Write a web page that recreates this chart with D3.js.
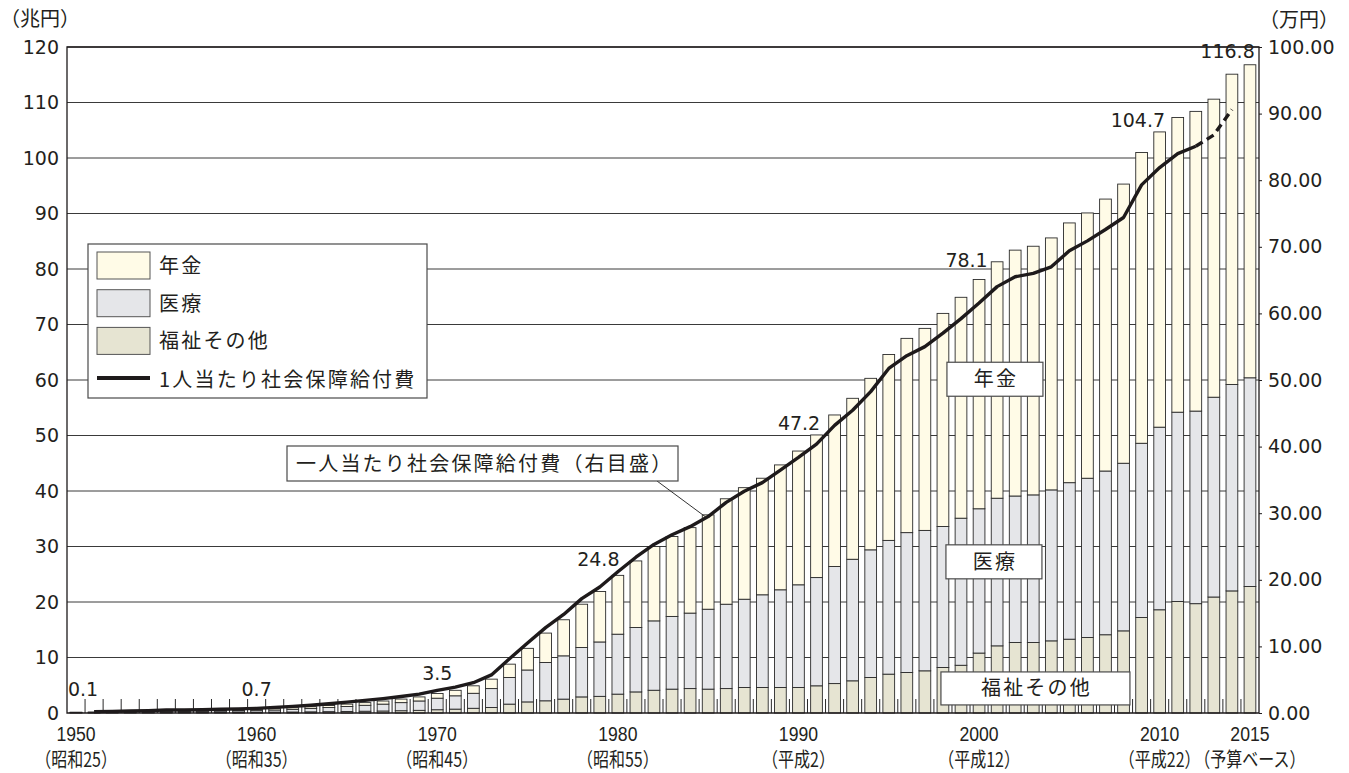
<!DOCTYPE html>
<html>
<head>
<meta charset="utf-8">
<script src="https://cdn.jsdelivr.net/npm/d3@7/dist/d3.min.js"></script>
<style>
  body { margin: 0; background: #fff; }
  svg { display: block; }
  .num { font-family: "DejaVu Sans", sans-serif; font-size: 19px; fill: #231f20; }
  .jp { font-family: "Noto Sans CJK JP", sans-serif; font-size: 20px; fill: #231f20; letter-spacing: 2.2px; }
  .grid { stroke: #3a3a3a; stroke-width: 1; }
</style>
</head>
<body>
<svg id="chart" width="1349" height="773"></svg>
<script>
// Categories
const years = d3.range(1950, 2016);

// 兆円, stacked bottom -> top: 福祉その他, 医療, 年金
const welfare = [
  0.06, 0.07, 0.08, 0.09, 0.10, 0.11, 0.11, 0.11, 0.12, 0.13,
  0.14, 0.16, 0.18, 0.21, 0.24, 0.28, 0.32, 0.36, 0.41, 0.48,
  0.59, 0.70, 0.85, 1.00, 1.60, 2.00, 2.20, 2.50, 2.90, 3.00,
  3.40, 3.80, 4.10, 4.30, 4.40, 4.30, 4.40, 4.60, 4.60, 4.60,
  4.60, 4.90, 5.30, 5.80, 6.40, 7.00, 7.30, 7.60, 8.20, 8.60,
  10.8, 12.1, 12.7, 12.7, 13.0, 13.3, 13.6, 14.1, 14.8, 17.2,
  18.6, 20.1, 19.7, 20.9, 22.0, 22.8
];
const medical = [
  0.06, 0.07, 0.10, 0.13, 0.15, 0.19, 0.19, 0.21, 0.24, 0.27,
  0.29, 0.38, 0.48, 0.59, 0.74, 0.90, 1.07, 1.24, 1.46, 1.69,
  2.08, 2.40, 2.70, 3.40, 4.80, 5.75, 6.90, 7.80, 8.90, 9.80,
  10.8, 11.6, 12.5, 13.1, 13.6, 14.4, 15.2, 15.9, 16.7, 17.6,
  18.5, 19.5, 21.1, 21.9, 23.0, 24.1, 25.2, 25.3, 25.4, 26.5,
  26.0, 26.6, 26.4, 26.6, 27.2, 28.2, 28.7, 29.5, 30.2, 31.4,
  32.9, 34.1, 34.7, 36.0, 37.2, 37.6
];
const pension = [
  0.01, 0.02, 0.03, 0.04, 0.05, 0.09, 0.10, 0.12, 0.15, 0.17,
  0.22, 0.25, 0.29, 0.33, 0.37, 0.42, 0.48, 0.56, 0.64, 0.73,
  0.85, 0.99, 1.35, 1.70, 2.40, 3.90, 5.30, 6.50, 7.80, 9.10,
  10.6, 12.0, 13.4, 14.4, 15.4, 17.0, 19.0, 20.1, 21.0, 22.5,
  24.1, 25.7, 27.3, 29.0, 30.9, 33.5, 35.0, 36.4, 38.4, 39.8,
  41.3, 42.6, 44.3, 44.8, 45.4, 46.8, 47.8, 49.0, 50.3, 52.4,
  53.2, 53.1, 54.0, 53.7, 55.9, 56.4
];

// 1人当たり社会保障給付費 (万円), 1951-2014
const perCapitaYears = d3.range(1951, 2015);
const perCapita = [
  0.19, 0.24, 0.30, 0.35, 0.44, 0.44, 0.48, 0.56, 0.62,
  0.70, 0.84, 1.00, 1.17, 1.39, 1.63, 1.89, 2.16, 2.48, 2.83,
  3.40, 3.89, 4.55, 5.72, 8.16, 10.52, 12.82, 14.79, 17.17, 18.92,
  21.20, 23.39, 25.31, 26.76, 27.98, 29.49, 31.63, 33.30, 34.59, 36.48,
  38.37, 40.37, 43.19, 45.46, 48.26, 51.73, 53.65, 55.01, 57.03, 59.22,
  61.55, 64.02, 65.50, 66.00, 67.00, 69.40, 70.89, 72.60, 74.40, 79.30,
  81.90, 84.00, 85.10, 86.80, 90.60
];
const dashedFrom = 2012;

// Total labels (兆円)
const labelYears = [1950, 1960, 1970, 1980, 1990, 2000, 2010, 2015];
const labelTexts = ['0.1', '0.7', '3.5', '24.8', '47.2', '78.1', '104.7', '116.8'];

// x axis labels
const tickYears = [1950, 1960, 1970, 1980, 1990, 2000, 2010, 2015];
const eraTexts = ['（昭和25）', '（昭和35）', '（昭和45）', '（昭和55）', '（平成2）', '（平成12）', '（平成22）', '（予算ベース）'];

const seriesKeys = ['welfare', 'medical', 'pension'];
const seriesNames = { welfare: '福祉その他', medical: '医療', pension: '年金' };
const colors = { welfare: '#e6e4d2', medical: '#e5e6e9', pension: '#fffbe7' };

// ---- layout
const margin = { top: 47, right: 90, bottom: 60, left: 67 };
const W = 1349, H = 773;
const x0 = margin.left, x1 = W - margin.right, yTop = margin.top, yBot = H - margin.bottom;

const svg = d3.select('#chart');

const x = d3.scaleBand().domain(years).range([x0, x1]).paddingInner(0.35).paddingOuter(0.175);
const yL = d3.scaleLinear().domain([0, 120]).range([yBot, yTop]);
const yR = d3.scaleLinear().domain([0, 100]).range([yBot, yTop]);
const cx = yr => x(yr) + x.bandwidth() / 2;

// gridlines
svg.append('g').selectAll('line')
  .data(yL.ticks(12).filter(d => d > 0))
  .enter().append('line')
  .attr('class', 'grid')
  .attr('x1', x0).attr('x2', x1)
  .attr('y1', d => yL(d)).attr('y2', d => yL(d));

// stacked bars
const rows = years.map((yr, i) => ({ year: yr, welfare: welfare[i], medical: medical[i], pension: pension[i] }));
const stacked = d3.stack().keys(seriesKeys)(rows);

svg.append('g').selectAll('g')
  .data(stacked)
  .enter().append('g')
  .attr('fill', d => colors[d.key])
  .selectAll('rect')
  .data(d => d)
  .enter().append('rect')
  .attr('x', d => x(d.data.year))
  .attr('width', x.bandwidth())
  .attr('y', d => yL(d[1]))
  .attr('height', d => yL(d[0]) - yL(d[1]))
  .attr('stroke', '#2a2a2a')
  .attr('stroke-width', 0.9);

// small ticks on the category boundaries
svg.append('g').selectAll('line')
  .data(years.slice(1))
  .enter().append('line')
  .attr('x1', d => x(d) - x.step() * 0.175).attr('x2', d => x(d) - x.step() * 0.175)
  .attr('y1', yBot).attr('y2', yBot - 14)
  .attr('stroke', '#2a2a2a').attr('stroke-width', 1);

// per-capita line (right scale)
const linePts = perCapitaYears.map((yr, i) => ({ year: yr, v: perCapita[i] }));
const line = d3.line().x(d => cx(d.year)).y(d => yR(d.v));
svg.append('path')
  .datum(linePts.filter(d => d.year <= dashedFrom))
  .attr('d', line)
  .attr('fill', 'none').attr('stroke', '#1e1a1b').attr('stroke-width', 3.4)
  .attr('stroke-linejoin', 'round');
svg.append('path')
  .datum(linePts.filter(d => d.year >= dashedFrom))
  .attr('d', line)
  .attr('fill', 'none').attr('stroke', '#1e1a1b').attr('stroke-width', 3.4)
  .attr('stroke-dasharray', '8,5');

// frame
svg.append('path')
  .attr('d', `M${x0},${yBot}V${yTop}H${x1}V${yBot}Z`)
  .attr('fill', 'none').attr('stroke', '#1e1a1b').attr('stroke-width', 1.3);

// axes
const axL = svg.append('g').attr('transform', `translate(${x0},0)`)
  .call(d3.axisLeft(yL).ticks(12).tickSize(0).tickPadding(8));
axL.select('.domain').remove();
axL.selectAll('text').attr('class', 'num').attr('font-family', null).attr('font-size', null);

const axR = svg.append('g').attr('transform', `translate(${x1},0)`)
  .call(d3.axisRight(yR).ticks(10).tickSize(3).tickPadding(6).tickFormat(d3.format('.2f')));
axR.select('.domain').remove();
axR.selectAll('line').attr('stroke', '#1e1a1b');
axR.selectAll('text').attr('class', 'num').attr('font-family', null).attr('font-size', null);

// unit titles
svg.append('text').attr('class', 'jp').attr('x', 0).attr('y', 26).style('letter-spacing', '0px').text('（兆円）');
svg.append('text').attr('class', 'jp').attr('x', 1259).attr('y', 27).style('letter-spacing', '0px').text('（万円）');

// x labels (condensed)
const xl = svg.append('g').selectAll('g')
  .data(tickYears)
  .enter().append('g')
  .attr('transform', d => `translate(${cx(d)},0)`);
xl.append('text')
  .attr('transform', 'translate(0,741) scale(0.84,1)')
  .attr('text-anchor', 'middle')
  .style('font-family', '"Liberation Sans", Arial, sans-serif')
  .style('font-size', '21px').style('fill', '#231f20')
  .text(d => d);
xl.append('text')
  .attr('transform', 'translate(0,767) scale(0.8,1)')
  .attr('text-anchor', 'middle')
  .style('font-family', '"Noto Sans CJK JP", sans-serif')
  .style('font-size', '20px').style('fill', '#231f20')
  .text((d, i) => eraTexts[i]);

// total labels
const nudge = [[7, -16], [0, -13], [0, -14], [-19.5, -9], [0.6, -21.5], [-12.5, -13], [-21.8, -4.5], [-22.4, -6.5]];
svg.append('g').selectAll('text')
  .data(labelYears)
  .enter().append('text')
  .attr('class', 'num')
  .attr('text-anchor', 'middle')
  .attr('x', (d, i) => cx(d) + nudge[i][0])
  .attr('y', (d, i) => yL(+labelTexts[i]) + nudge[i][1])
  .text((d, i) => labelTexts[i]);

// boxed series labels inside the chart
function boxLabel(text, bx, by, bw, bh) {
  svg.append('rect').attr('x', bx).attr('y', by).attr('width', bw).attr('height', bh)
    .attr('fill', '#fff').attr('stroke', '#4a4a4a').attr('stroke-width', 1.2);
  svg.append('text').attr('class', 'jp')
    .attr('x', bx + bw / 2 + 1).attr('y', by + bh / 2 + 7)
    .attr('text-anchor', 'middle').text(text);
}
boxLabel(seriesNames.pension, cx(1998) + 4, yL(63.2), 96, 34);
boxLabel(seriesNames.medical, cx(1998) + 3, yL(30.3), 96, 34);
boxLabel(seriesNames.welfare, cx(1998) - 2, yL(7.4), 189, 33);

// callout
const calloutX = 287, calloutY = 446;
svg.append('line')
  .attr('x1', 657).attr('y1', calloutY + 35)
  .attr('x2', cx(1985) - 3).attr('y2', yR(perCapita[perCapitaYears.indexOf(1985)]))
  .attr('stroke', '#333').attr('stroke-width', 1);
svg.append('rect').attr('x', calloutX).attr('y', calloutY).attr('width', 391).attr('height', 35)
  .attr('fill', '#fff').attr('stroke', '#4a4a4a').attr('stroke-width', 1.2);
svg.append('text').attr('class', 'jp').attr('x', 296).attr('y', calloutY + 25)
  .text('一人当たり社会保障給付費（右目盛）');

// legend
const lg = svg.append('g').attr('transform', 'translate(88,244)');
lg.append('rect').attr('width', 339).attr('height', 154)
  .attr('fill', '#fff').attr('stroke', '#4a4a4a').attr('stroke-width', 1.2);
const legendKeys = ['pension', 'medical', 'welfare'];
legendKeys.forEach((k, i) => {
  const gy = 8 + i * 37.7;
  lg.append('rect').attr('x', 9).attr('y', gy).attr('width', 53).attr('height', 27)
    .attr('fill', colors[k]).attr('stroke', '#555').attr('stroke-width', 1);
  lg.append('text').attr('class', 'jp').attr('x', 71).attr('y', gy + 21).text(seriesNames[k]);
});
lg.append('line').attr('x1', 9).attr('x2', 62).attr('y1', 134).attr('y2', 134)
  .attr('stroke', '#1e1a1b').attr('stroke-width', 4);
lg.append('text').attr('class', 'jp').attr('x', 71).attr('y', 143).text('1人当たり社会保障給付費');
</script>
</body>
</html>
